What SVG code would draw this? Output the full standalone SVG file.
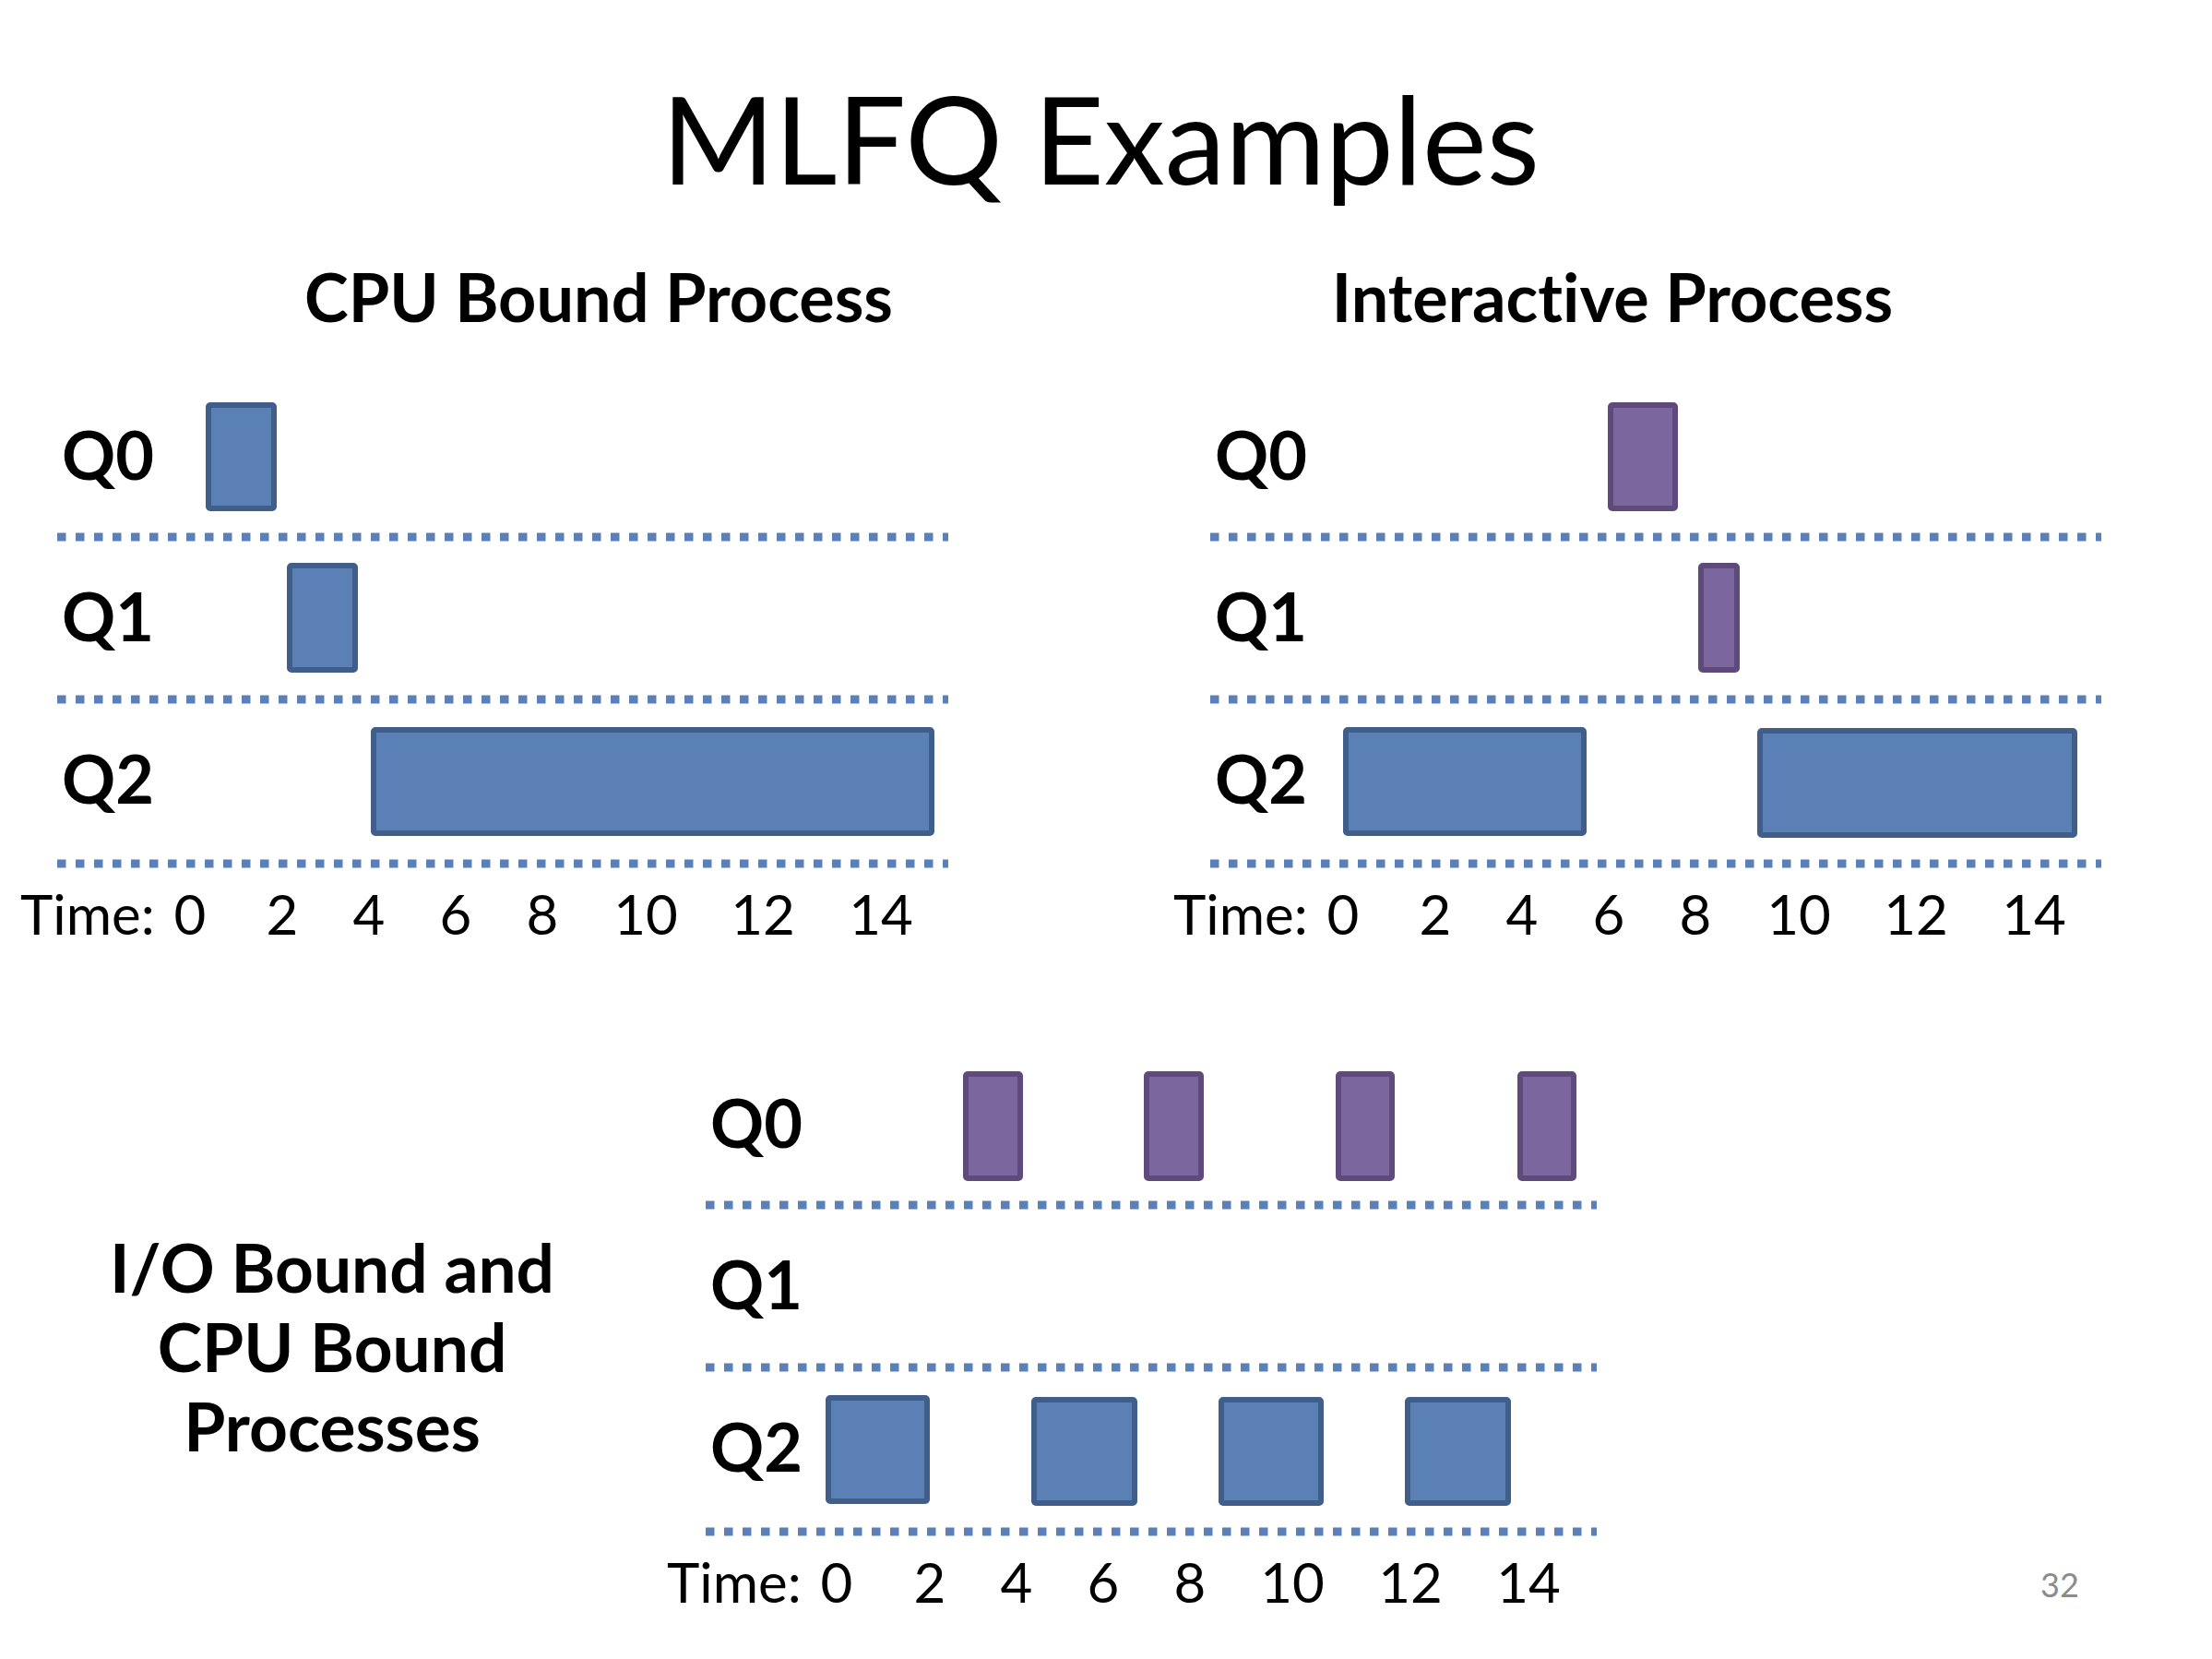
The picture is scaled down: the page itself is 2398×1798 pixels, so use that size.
<svg xmlns="http://www.w3.org/2000/svg" width="2398" height="1798" viewBox="0 0 2398 1798">
<style>
text{font-family:Lato,"Open Sans","Liberation Sans",sans-serif;fill:#000;font-variant-ligatures:none;font-feature-settings:"liga" 0,"clig" 0}
.title{font-size:132px}
.sub{font-size:72px;font-weight:bold;text-anchor:middle}
.side{font-size:73px;font-weight:bold;text-anchor:middle}
.q{font-size:72px;font-weight:bold}
.t{font-size:60px}
.n{font-size:60px;text-anchor:middle}
.pg{font-size:36px;fill:#8C8C8C;text-anchor:middle}
.dot{stroke:#5A80B7;stroke-width:9;stroke-dasharray:9.5 10.5;fill:none}
.blue{fill:#5A80B6;stroke:#3F5E89;stroke-width:6}
.purple{fill:#7B679E;stroke:#5E4B7C;stroke-width:6}
</style>
<rect width="2398" height="1798" fill="#fff"/>
<text class="title" x="1193" y="200" text-anchor="middle">MLFQ Examples</text>
<text class="sub" x="649" y="349">CPU Bound Process</text>
<text class="sub" x="1748" y="349">Interactive Process</text>
<text class="side"><tspan x="360" y="1401">I/O Bound and</tspan><tspan x="360" y="1487">CPU Bound</tspan><tspan x="360" y="1573">Processes</tspan></text>

<g id="connectors">
<line class="dot" x1="62" y1="582" x2="1028" y2="582"/>
<line class="dot" x1="62" y1="758" x2="1028" y2="758"/>
<line class="dot" x1="62" y1="936" x2="1028" y2="936"/>
<line class="dot" x1="1312" y1="582" x2="2278" y2="582"/>
<line class="dot" x1="1312" y1="758" x2="2278" y2="758"/>
<line class="dot" x1="1312" y1="936" x2="2278" y2="936"/>
<line class="dot" x1="765" y1="1306" x2="1731" y2="1306"/>
<line class="dot" x1="765" y1="1482" x2="1731" y2="1482"/>
<line class="dot" x1="765" y1="1660" x2="1731" y2="1660"/>
</g>

<g id="cpu-chart">
<text class="q" x="67" y="520">Q0</text>
<text class="q" x="67" y="695">Q1</text>
<text class="q" x="67" y="871">Q2</text>
<rect id="cpu-q0" class="blue" x="226" y="439" width="71" height="112" rx="2"/>
<rect id="cpu-q1" class="blue" x="314" y="613" width="71" height="113" rx="2"/>
<rect id="cpu-q2" class="blue" x="405" y="791" width="605" height="112" rx="2"/>
<text class="t" x="22" y="1013">Time:</text>
<text class="n" y="1013"><tspan x="206">0</tspan><tspan x="306">2</tspan><tspan x="400">4</tspan><tspan x="494">6</tspan><tspan x="588">8</tspan><tspan x="700">10</tspan><tspan x="827">12</tspan><tspan x="955">14</tspan></text>
</g>

<g id="interactive-chart">
<text class="q" x="1317" y="520">Q0</text>
<text class="q" x="1317" y="695">Q1</text>
<text class="q" x="1317" y="871">Q2</text>
<rect id="int-q0" class="purple" x="1746" y="439" width="70" height="112" rx="2"/>
<rect id="int-q1" class="purple" x="1844" y="613" width="39" height="113" rx="2"/>
<rect id="int-q2a" class="blue" x="1459" y="791" width="258" height="112" rx="2"/>
<rect id="int-q2b" class="blue" x="1908" y="792" width="341" height="113" rx="2"/>
<text class="t" x="1272" y="1013">Time:</text>
<text class="n" y="1013"><tspan x="1456">0</tspan><tspan x="1556">2</tspan><tspan x="1650">4</tspan><tspan x="1744">6</tspan><tspan x="1838">8</tspan><tspan x="1950">10</tspan><tspan x="2077">12</tspan><tspan x="2205">14</tspan></text>
</g>

<g id="mixed-chart">
<text class="q" x="770" y="1244">Q0</text>
<text class="q" x="770" y="1419">Q1</text>
<text class="q" x="770" y="1595">Q2</text>
<rect id="mix-q0a" class="purple" x="1047" y="1164" width="59" height="113" rx="2"/>
<rect id="mix-q0b" class="purple" x="1243" y="1164" width="59" height="113" rx="2"/>
<rect id="mix-q0c" class="purple" x="1451" y="1164" width="58" height="113" rx="2"/>
<rect id="mix-q0d" class="purple" x="1648" y="1164" width="58" height="113" rx="2"/>
<rect id="mix-q2a" class="blue" x="898" y="1515" width="107" height="112" rx="2"/>
<rect id="mix-q2b" class="blue" x="1121" y="1517" width="109" height="112" rx="2"/>
<rect id="mix-q2c" class="blue" x="1324" y="1517" width="108" height="112" rx="2"/>
<rect id="mix-q2d" class="blue" x="1526" y="1517" width="109" height="112" rx="2"/>
<text class="t" x="723" y="1737">Time:</text>
<text class="n" y="1737"><tspan x="907">0</tspan><tspan x="1008">2</tspan><tspan x="1102">4</tspan><tspan x="1196">6</tspan><tspan x="1290">8</tspan><tspan x="1401">10</tspan><tspan x="1529">12</tspan><tspan x="1657">14</tspan></text>
</g>

<text class="pg" x="2233" y="1731">32</text>
</svg>
